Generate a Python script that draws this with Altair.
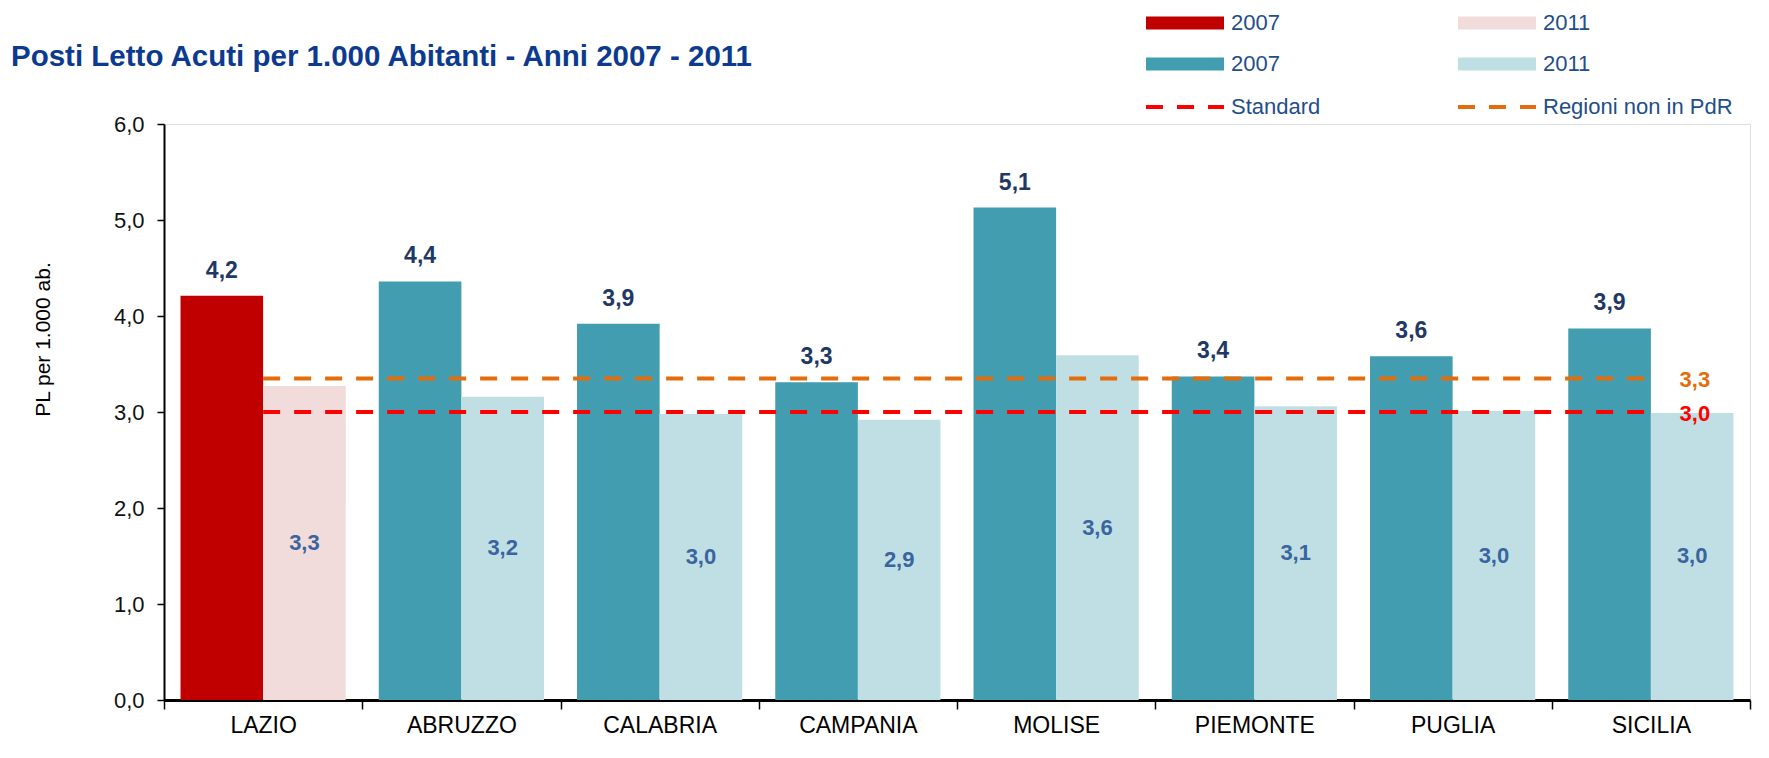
import altair as alt
import pandas as pd

# ---------------- data ----------------
regioni = ["LAZIO", "ABRUZZO", "CALABRIA", "CAMPANIA", "MOLISE", "PIEMONTE", "PUGLIA", "SICILIA"]
pl_2007 = [4.21, 4.36, 3.92, 3.31, 5.13, 3.37, 3.58, 3.87]
pl_2011 = [3.27, 3.16, 2.98, 2.92, 3.59, 3.06, 3.01, 2.99]
anni = ["2007", "2011"]
rif_nomi = ["Standard", "Regioni non in PdR"]
rif_valori = [3.0, 3.35]
rif_etichette = ["3,0", "3,3"]
serie_dom = ["Lazio 2007", "Lazio 2011", "Altre 2007", "Altre 2011"]
y_ticks = [0, 1, 2, 3, 4, 5, 6]

rows = []
for r, a, b in zip(regioni, pl_2007, pl_2011):
    g = "Lazio" if r == "LAZIO" else "Altre"
    rows.append({"regione": r, "anno": "2007", "valore": a, "serie": g + " 2007"})
    rows.append({"regione": r, "anno": "2011", "valore": b, "serie": g + " 2011"})
df = pd.DataFrame(rows)

rif = pd.DataFrame({
    "regione": [regioni[0]] * len(rif_nomi),
    "regione_fine": [regioni[-1]] * len(rif_nomi),
    "valore": rif_valori,
    "nome": rif_nomi,
    "etichetta": rif_etichette,
})

FONT = "Liberation Sans"
RED = "#C00000"
PINK = "#F2DCDB"
TEAL = "#419DAF"
LTEAL = "#C0DFE4"
STD_COL = "#FF0000"
ORA_COL = "#E46C0A"
LEG_TXT = "#1F4E89"

x_axis = alt.Axis(title=None, labelAngle=0, labelFontSize=23, labelColor="#000000",
                  labelPadding=5, tickBand="extent", tickSize=9, tickColor="#000000",
                  tickWidth=1.5, domainColor="#000000", domainWidth=3, labelFont=FONT)
x_scale = alt.Scale(domain=regioni, paddingInner=0, paddingOuter=0)
x_enc = alt.X("regione:N", sort=regioni, scale=x_scale, axis=x_axis)
xoff_enc = alt.XOffset("anno:N", scale=alt.Scale(domain=anni, paddingInner=0, paddingOuter=0.2))
y_enc = alt.Y(
    "valore:Q",
    scale=alt.Scale(domain=[0, 6], nice=False),
    axis=alt.Axis(title="PL per 1.000 ab.", values=y_ticks,
                  labelExpr="replace(format(datum.value, '.1f'), '.', ',')",
                  labelFontSize=22, labelColor="#111111", labelPadding=13, labelFont=FONT,
                  tickSize=7, tickColor="#000000", tickWidth=1.5,
                  domainColor="#000000", domainWidth=2, grid=False,
                  titleFontSize=21, titleFontWeight="normal", titleColor="#000000",
                  titleFont=FONT, titleX=-121, titleY=215, titleAlign="center",
                  titleBaseline="middle"),
)

base = alt.Chart(df).transform_calculate(
    etichetta="replace(format(datum.valore, '.1f'), '.', ',')",
    meta="datum.valore / 2",
)

bars = base.mark_bar(strokeWidth=0).encode(
    x=x_enc, xOffset=xoff_enc, y=y_enc,
    color=alt.Color("serie:N", scale=alt.Scale(domain=serie_dom, range=[RED, PINK, TEAL, LTEAL]),
                    legend=None),
)

lab07 = base.transform_filter("datum.anno == '2007'").mark_text(
    baseline="alphabetic", dy=-18, fontSize=23, fontWeight="bold", color="#1F3864", font=FONT
).encode(x=x_enc, xOffset=xoff_enc, y=y_enc, text="etichetta:N")

lab11 = base.transform_filter("datum.anno == '2011'").mark_text(
    baseline="middle", fontSize=22, fontWeight="bold", color="#3A64A0", font=FONT
).encode(x=x_enc, xOffset=xoff_enc, y=alt.Y("meta:Q", scale=alt.Scale(domain=[0, 6], nice=False)),
         text="etichetta:N")

rif_color = alt.Color("nome:N", scale=alt.Scale(domain=rif_nomi, range=[STD_COL, ORA_COL]), legend=None)

rules = alt.Chart(rif).mark_rule(strokeDash=[17, 14], strokeWidth=4).encode(
    x=x_enc, x2=alt.X2("regione_fine:N"), y=y_enc, color=rif_color,
)
rif_lab = alt.Chart(rif).mark_text(
    dx=44, dy=2, baseline="middle", fontSize=22, fontWeight="bold", font=FONT
).encode(x=alt.X("regione_fine:N", sort=regioni, scale=x_scale, axis=x_axis),
         y=y_enc, text="etichetta:N", color=rif_color)


def one():
    return alt.Chart(alt.Data(values=[{"k": 1}]))


layers = [bars, rules, lab07, lab11, rif_lab]

# title
layers.append(one().mark_text(align="left", baseline="alphabetic", fontSize=29.5, fontWeight="bold",
                              color="#0B3A8F", font=FONT).encode(
    x=alt.value(-153), y=alt.value(-58),
    text=alt.value("Posti Letto Acuti per 1.000 Abitanti - Anni 2007 - 2011")))

# manual legend
leg_rows = [-101, -60, -17]
c1_x, c2_x = 982, 1294
sw_w = 78
items = [
    (c1_x, leg_rows[0], "rect", RED, "2007"),
    (c2_x, leg_rows[0], "rect", PINK, "2011"),
    (c1_x, leg_rows[1], "rect", TEAL, "2007"),
    (c2_x, leg_rows[1], "rect", LTEAL, "2011"),
    (c1_x, leg_rows[2], "line", STD_COL, "Standard"),
    (c2_x, leg_rows[2], "line", ORA_COL, "Regioni non in PdR"),
]
for lx, ly, kind, col, txt in items:
    if kind == "rect":
        layers.append(one().mark_rect(color=col).encode(
            x=alt.value(lx), x2=alt.value(lx + sw_w), y=alt.value(ly - 6.5), y2=alt.value(ly + 6.5)))
    else:
        layers.append(one().mark_rule(color=col, strokeDash=[17, 14], strokeWidth=4).encode(
            x=alt.value(lx), x2=alt.value(lx + sw_w), y=alt.value(ly)))
    layers.append(one().mark_text(align="left", baseline="middle", fontSize=22, color=LEG_TXT,
                                  font=FONT).encode(
        x=alt.value(lx + sw_w + 7), y=alt.value(ly), text=alt.value(txt)))

chart = alt.layer(*layers).resolve_scale(color="independent").properties(
    width=1586, height=576,
    padding={"left": 156, "top": 116, "right": 6, "bottom": 42},
    autosize=alt.AutoSizeParams(type="none"),
).configure_view(stroke=None).configure(background="white")

chart.save("out.html", embed_options={"renderer": "svg", "actions": False})
